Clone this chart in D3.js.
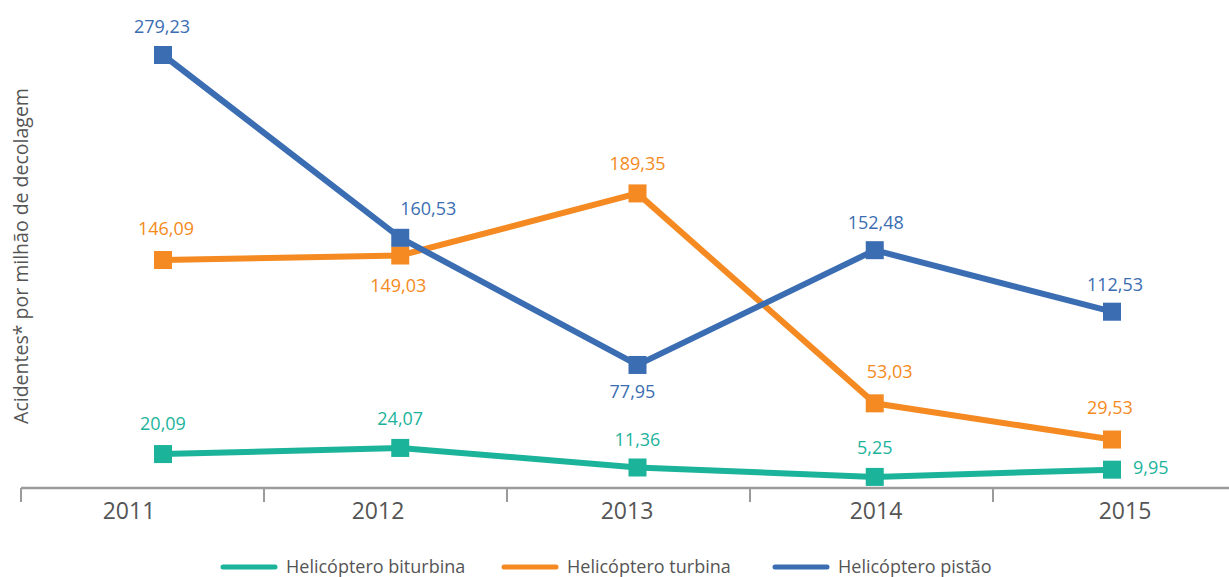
<!DOCTYPE html>
<html>
<head>
<meta charset="utf-8">
<script src="https://cdn.jsdelivr.net/npm/d3@7"></script>
<style>
  html, body { margin: 0; padding: 0; background: #fff; }
  svg { display: block; font-family: "Open Sans", sans-serif; }
</style>
</head>
<body>
<svg id="chart" width="1229" height="577"></svg>
<script>
const years = ["2011", "2012", "2013", "2014", "2015"];
const biturbina = [20.09, 24.07, 11.36, 5.25, 9.95];
const turbina = [146.09, 149.03, 189.35, 53.03, 29.53];
const pistao = [279.23, 160.53, 77.95, 152.48, 112.53];
const seriesNames = ["Helicóptero biturbina", "Helicóptero turbina", "Helicóptero pistão"];
const yTitle = "Acidentes* por milhão de decolagem";

const colors = ["#1CB39B", "#F48A21", "#3B6DB3"];
const seriesValues = [biturbina, turbina, pistao];

// label placement (dx, dy relative to marker; anchor)
const labelPlace = [
  [[0,-24,"middle"],[0,-23,"middle"],[0,-22,"middle"],[0,-23,"middle"],[21,4,"start"]],
  [[3,-25,"middle"],[-2,36,"middle"],[0,-23,"middle"],[15,-25,"middle"],[-2,-26,"middle"]],
  [[-1,-22,"middle"],[28,-23,"middle"],[-5,33,"middle"],[1,-21,"middle"],[3,-21,"middle"]]
];

const svg = d3.select("#chart");

const x = d3.scalePoint().domain(years).range([163, 1112]);
const xLabel = d3.scalePoint().domain(years).range([129, 1125]);
const xBand = d3.scaleBand().domain(years).range([21, 1236]);
const y = d3.scaleLinear().domain([0, 279.23]).range([485, 55]);

// axis
const axisY = 488;
const axis = d3.axisBottom(xBand).tickSize(0).tickFormat("");
const gAxis = svg.append("g").attr("transform", `translate(0,${axisY})`).call(axis);
gAxis.select(".domain").remove();
svg.append("line").attr("x1", 21).attr("x2", 1229).attr("y1", axisY).attr("y2", axisY)
  .attr("stroke", "#9b9b9b").attr("stroke-width", 2.5);
const tickPos = years.map(d => xBand(d)).concat([xBand.range()[1]]);
svg.selectAll("line.tk").data(tickPos).join("line").attr("class","tk")
  .attr("x1", d => d).attr("x2", d => d).attr("y1", axisY).attr("y2", axisY + 14)
  .attr("stroke", "#9b9b9b").attr("stroke-width", 2);
svg.selectAll("text.yr").data(years).join("text").attr("class","yr")
  .attr("x", d => xLabel(d)).attr("y", axisY + 31)
  .attr("text-anchor", "middle").attr("font-size", 23).attr("fill", "#555")
  .text(d => d);

// y title
svg.append("text")
  .attr("transform", "translate(28,256) rotate(-90)")
  .attr("text-anchor", "middle").attr("font-size", 19.5).attr("fill", "#555")
  .text(yTitle);

const line = d3.line().x((d, i) => x(years[i])).y(d => y(d));
const order = [0, 1, 2];
order.forEach(s => {
  const vals = seriesValues[s];
  svg.append("path").datum(vals).attr("d", line)
    .attr("fill", "none").attr("stroke", colors[s]).attr("stroke-width", 6)
    .attr("stroke-linejoin", "miter");
});
order.forEach(s => {
  const vals = seriesValues[s];
  const g = svg.append("g");
  g.selectAll("rect").data(vals).join("rect")
    .attr("x", (d, i) => x(years[i]) - 9).attr("y", d => y(d) - 9)
    .attr("width", 18).attr("height", 18).attr("fill", colors[s]);
  g.selectAll("text").data(vals).join("text")
    .attr("x", (d, i) => x(years[i]) + labelPlace[s][i][0])
    .attr("y", (d, i) => y(d) + labelPlace[s][i][1])
    .attr("text-anchor", (d, i) => labelPlace[s][i][2])
    .attr("font-size", 18).attr("fill", colors[s])
    .text(d => d.toFixed(2).replace(".", ","));
});

// legend
const legX = [221, 502, 773];
const legendG = svg.append("g");
seriesNames.forEach((n, i) => {
  legendG.append("line").attr("x1", legX[i] + 2).attr("x2", legX[i] + 54)
    .attr("y1", 567).attr("y2", 567).attr("stroke", colors[i])
    .attr("stroke-width", 5).attr("stroke-linecap", "round");
  legendG.append("text").attr("x", legX[i] + 65).attr("y", 573)
    .attr("font-size", 18).attr("fill", "#555").text(n);
});
</script>
</body>
</html>
